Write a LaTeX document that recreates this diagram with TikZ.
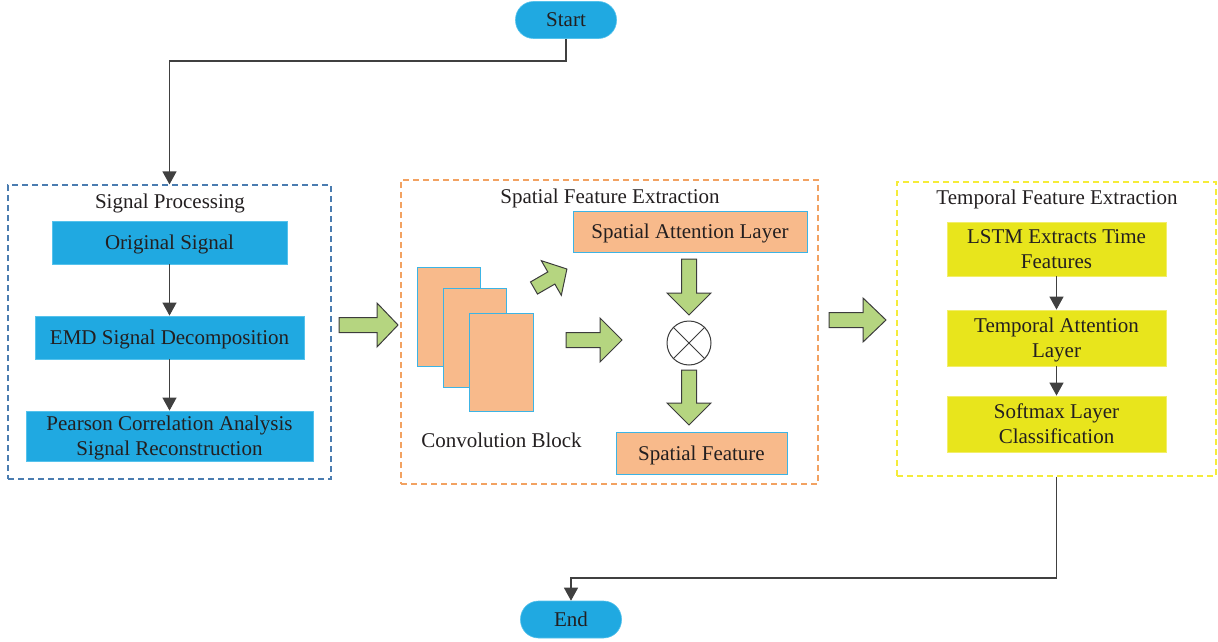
\documentclass[tikz,border=0pt]{standalone}
\usepackage{fontspec}
\setmainfont{Liberation Serif}
\usetikzlibrary{arrows.meta}

\definecolor{txt}{HTML}{231F20}
\definecolor{flowgray}{HTML}{404040}
\definecolor{bluefill}{HTML}{20A9E1}
\definecolor{blueedge}{HTML}{55C2EC}
\definecolor{peach}{HTML}{F8BA8B}
\definecolor{peachedge}{HTML}{3CB4E5}
\definecolor{yellowfill}{HTML}{E8E51C}
\definecolor{yellowedge}{HTML}{F2EE6A}
\definecolor{greenfill}{HTML}{B5D580}
\definecolor{greenedge}{HTML}{3C3C3C}
\definecolor{groupblue}{HTML}{4A7CB0}
\definecolor{grouporange}{HTML}{F2A262}
\definecolor{groupyellow}{HTML}{F5EC3A}

% line strut: fixed height and depth so every line sits on the same baseline
\newcommand{\lnstrut}{\rule[-5pt]{0pt}{24pt}}

\tikzset{
  lbl/.style={text=txt, font=\fontsize{21}{25}\selectfont, align=center,
    execute at begin node={\lnstrut}},
  twolines/.style={execute at begin node={}},
  terminal/.style={lbl, fill=bluefill, draw=blueedge, line width=0.6pt,
    rounded corners=18pt, minimum width=101pt, minimum height=37pt, inner sep=0pt},
  bluebox/.style={lbl, fill=bluefill, draw=blueedge, line width=0.8pt,
    minimum height=43pt, inner sep=0pt},
  peachbox/.style={lbl, fill=peach, draw=peachedge, line width=1pt,
    minimum height=41pt, inner sep=0pt},
  convsheet/.style={fill=peach, draw=peachedge, line width=1pt,
    minimum width=63pt, minimum height=99pt, inner sep=0pt},
  yellowbox/.style={lbl, fill=yellowfill, draw=yellowedge, line width=0.8pt,
    minimum width=219pt, minimum height=55pt, inner sep=0pt},
  group/.style={dash pattern=on 6pt off 4pt, line width=1.2pt, inner sep=0pt},
  flow/.style={draw=flowgray, line width=1.2pt,
    -{Triangle[length=13pt,width=14pt]}},
  garrow/.style={fill=greenfill, draw=greenedge, line width=1pt, line join=miter},
  pics/blockarrow/.style n args={4}{code={
    \draw[garrow] (0,-#4) -- (#2,-#4) -- (#2,-#3) -- (#1,0) -- (#2,#3)
      -- (#2,#4) -- (0,#4) -- cycle;
  }},
}

\begin{document}
\begin{tikzpicture}[x=1pt,y=-1pt]
\useasboundingbox (0,0) rectangle (1218,642);

% start / end terminals
\node[terminal] (start) at (566,20) {Start};
\node[terminal] (end) at (571,619.5) {End};

% signal processing group
\node[group, draw=groupblue, minimum width=323pt, minimum height=294pt] (sp) at (169.5,332) {};
\node[lbl, inner sep=0pt] (sptitle) at (170,201) {Signal Processing};
\node[bluebox, minimum width=235pt] (orig) at (169.5,242.5) {Original Signal};
\node[bluebox, minimum width=269pt] (emd) at (169.5,337.5) {EMD Signal Decomposition};
\node[bluebox, twolines, minimum width=287pt, minimum height=50pt] (pearson) at (169.5,436)
  {\lnstrut Pearson Correlation Analysis\\Signal Reconstruction\lnstrut};
\draw[flow] (orig.south) -- (emd.north);
\draw[flow] (emd.south) -- (pearson.north);

% spatial feature extraction group
\node[group, draw=grouporange, minimum width=417pt, minimum height=304pt] (sf) at (609.5,332) {};
\node[lbl, inner sep=0pt] (sftitle) at (610,196.5) {Spatial Feature Extraction};
\node[peachbox, minimum width=234pt] (satt) at (690,231.5) {Spatial Attention Layer};
\node[convsheet] (conv1) at (448.5,316.5) {};
\node[convsheet] (conv2) at (474.5,337.5) {};
\node[convsheet, minimum width=64pt, minimum height=98pt] (conv3) at (501,362) {};
\node[lbl, inner sep=0pt] (convlbl) at (501.5,440) {Convolution Block};
\node[circle, draw=greenedge, line width=1pt, minimum size=44pt, inner sep=0pt, fill=white] (mult) at (689,343) {};
\draw[greenedge, line width=1pt] (mult.45) -- (mult.225);
\draw[greenedge, line width=1pt] (mult.135) -- (mult.315);
\node[peachbox, minimum width=171pt, minimum height=42pt] (sfeat) at (701.5,453) {Spatial Feature};

% temporal feature extraction group
\node[group, draw=groupyellow, minimum width=319pt, minimum height=294pt] (tf) at (1056.5,329) {};
\node[lbl, inner sep=0pt] (tftitle) at (1057,197.5) {Temporal Feature Extraction};
\node[yellowbox, twolines, minimum height=54pt] (lstm) at (1056.5,249)
  {\lnstrut LSTM Extracts Time\\Features\lnstrut};
\node[yellowbox, twolines, minimum height=56pt] (tatt) at (1056.5,338)
  {\lnstrut Temporal Attention\\Layer\lnstrut};
\node[yellowbox, twolines, minimum height=56pt] (soft) at (1056.5,424)
  {\lnstrut Softmax Layer\\Classification\lnstrut};
\draw[flow] (lstm.south) -- (tatt.north);
\draw[flow] (tatt.south) -- (soft.north);

% block arrows
\pic at (339,325) {blockarrow={59}{38}{22}{7.5}};
\pic at (566,340) {blockarrow={56}{34}{22}{7.5}};
\pic at (829,320) {blockarrow={57}{34}{22}{7.5}};
\pic[rotate=-90] at (689,259) {blockarrow={56}{34}{22}{7.5}};
\pic[rotate=-90] at (689,370) {blockarrow={55}{33}{22}{7.5}};
\pic[rotate=30] at (534,288) {blockarrow={38}{20}{20}{7}};

% main flow
\coordinate (split) at (169.5,61);
\coordinate (merge) at (571,578);
\draw[flow] (start.south) |- (split) -- (sp.north);
\draw[flow] (tf.south) |- (merge) -- (end.north);
\end{tikzpicture}
\end{document}
